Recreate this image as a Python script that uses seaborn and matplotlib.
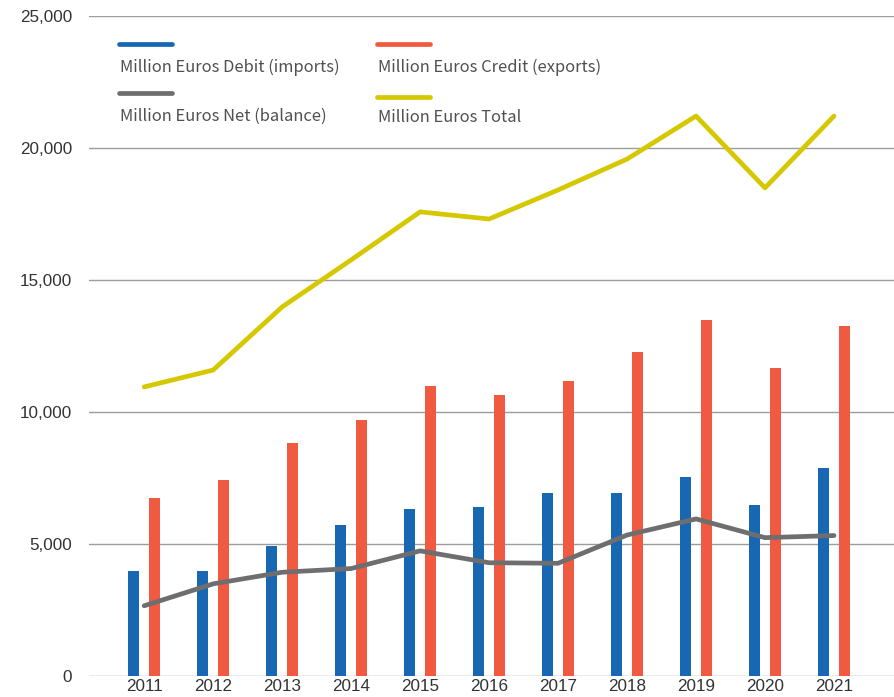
import numpy as np
import pandas as pd
import seaborn as sns
import matplotlib.pyplot as plt
from matplotlib.lines import Line2D
from matplotlib.ticker import StrMethodFormatter

# Values (million euros)
years = ["2011", "2012", "2013", "2014", "2015", "2016",
         "2017", "2018", "2019", "2020", "2021"]
debit = [3980, 3980, 4920, 5710, 6310, 6400, 6920, 6920, 7530, 6490, 7870]
credit = [6740, 7420, 8810, 9700, 10990, 10640, 11170, 12290, 13500, 11680, 13250]
net = [2660, 3490, 3930, 4070, 4740, 4290, 4270, 5340, 5950, 5240, 5320]
total = [10950, 11590, 13980, 15760, 17580, 17310, 18410, 19580, 21210, 18490, 21210]
y_ticks = [0, 5000, 10000, 15000, 20000, 25000]

labels = ["Million Euros Debit (imports)", "Million Euros Credit (exports)",
          "Million Euros Net (balance)", "Million Euros Total"]

blue = "#1767B2"
orange = "#F05A40"
grey = "#6E6E70"
yellow = "#D6C800"

# long table for the bars
bars = pd.DataFrame({
    "Year": years * 2,
    "Value": debit + credit,
    "Series": [labels[0]] * len(years) + [labels[1]] * len(years),
})

sns.set_theme(style="white")
plt.rcParams["font.family"] = ["Liberation Sans", "DejaVu Sans"]

W, H = 894, 697
fig = plt.figure(figsize=(W / 100, H / 100), dpi=100)
ax = fig.add_axes([89 / W, 21 / H, 1 - 89 / W, 660 / H])

sns.barplot(data=bars, x="Year", y="Value", hue="Series",
            palette=[blue, orange], saturation=1, width=0.6, gap=0.47,
            linewidth=0, legend=False, ax=ax, zorder=2)

pos = np.arange(len(years))
sns.lineplot(x=pos, y=net, color=grey, lw=3.4, ax=ax, zorder=3,
             solid_capstyle="round", solid_joinstyle="round")
sns.lineplot(x=pos, y=total, color=yellow, lw=3.4, ax=ax, zorder=3,
             solid_capstyle="round", solid_joinstyle="round")

ax.set_ylim(0, 25000)
ax.set_xlim(-0.80, 10.87)
ax.set_yticks(y_ticks)
ax.yaxis.set_major_formatter(StrMethodFormatter("{x:,.0f}"))
ax.grid(axis="y", color="#9C9C9C", lw=1.0, zorder=0)
ax.grid(axis="x", visible=False)
for s in ax.spines.values():
    s.set_visible(False)
ax.tick_params(axis="y", length=0, pad=12, labelsize=12.3, labelcolor="#333333")
ax.tick_params(axis="x", length=0, pad=2, labelsize=12.3, labelcolor="#333333")
ax.set_xlabel("")
ax.set_ylabel("")

# legend: colour bar above each label, two columns
leg_font = ["Noto Sans CJK KR", "DejaVu Sans"]
entries = [(labels[0], blue, 119, 44, 71.5), (labels[1], orange, 377, 44, 71.5),
           (labels[2], grey, 119, 93, 120.5), (labels[3], yellow, 377, 97, 122.5)]
for text, col, x0, yl, yb in entries:
    fig.add_artist(Line2D([x0 / W, (x0 + 53) / W], [1 - yl / H, 1 - yl / H],
                          transform=fig.transFigure, color=col, lw=3.4))
    fig.text((x0 + 1) / W, 1 - yb / H, text, fontsize=11.9,
             color="#505050", va="baseline", ha="left", family=leg_font)

fig.savefig("out.png", dpi=100)
